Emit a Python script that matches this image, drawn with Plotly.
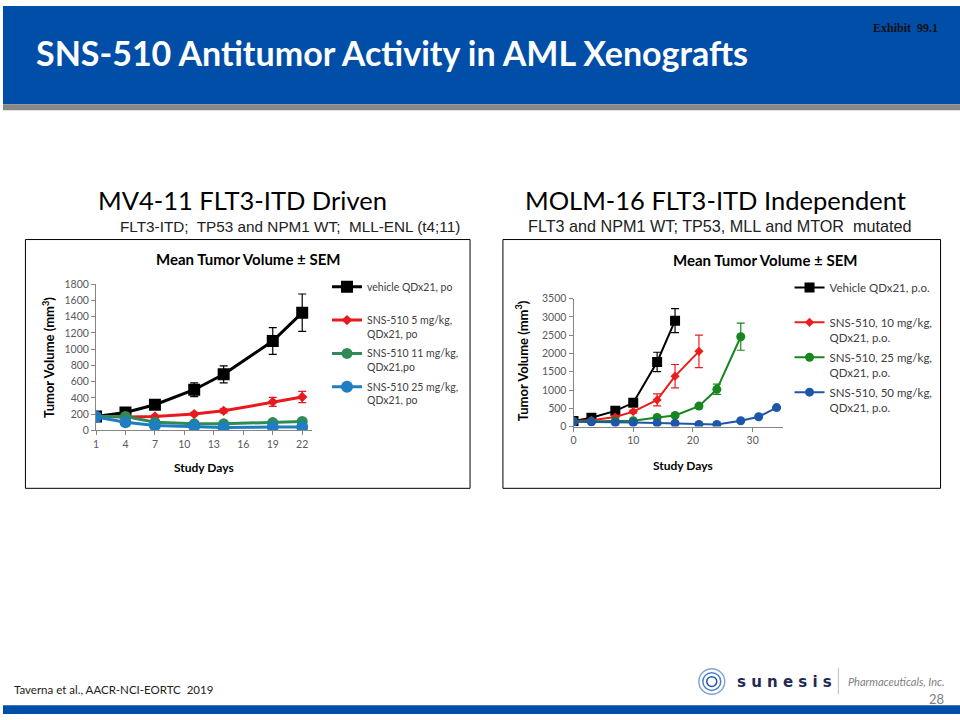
import plotly.graph_objects as go

W, H = 960, 720
def px(x): return x / W
def py(y): return 1 - y / H

# ---------------- data: MV4-11 (left) ----------------
days_l = [1, 4, 7, 11, 14, 19, 22]
veh_l = [170, 220, 315, 500, 690, 1100, 1450]
veh_l_err = [5, 20, 30, 85, 105, 165, 230]
sns5_l = [170, 165, 170, 200, 240, 350, 410]
sns5_l_err = [5, 10, 15, 20, 25, 55, 70]
sns11_l = [170, 170, 100, 80, 80, 95, 110]
sns11_l_err = [5, 10, 10, 10, 10, 10, 15]
sns25_l = [165, 100, 60, 50, 35, 40, 40]
sns25_l_err = [5, 10, 10, 10, 5, 5, 5]
names_l = ["vehicle QDx21, po<br>&nbsp;", "SNS-510 5 mg/kg,<br>QDx21, po",
           "SNS-510 11 mg/kg,<br>QDx21,po", "SNS-510 25 mg/kg,<br>QDx21, po"]
ticks_l = [1, 4, 7, 10, 13, 16, 19, 22]

# ---------------- data: MOLM-16 (right) ----------------
days_r_veh = [0, 3, 7, 10, 14, 17]
veh_r = [150, 240, 430, 650, 1770, 2900]
veh_r_err = [20, 30, 50, 60, 265, 330]
days_r_10 = [0, 3, 7, 10, 14, 17, 21]
sns10_r = [150, 170, 260, 410, 730, 1380, 2060]
sns10_r_err = [15, 20, 30, 40, 165, 320, 445]
days_r_25 = [0, 3, 7, 10, 14, 17, 21, 24, 28]
sns25_r = [140, 140, 150, 160, 250, 305, 560, 1020, 2460]
sns25_r_err = [10, 10, 15, 20, 30, 30, 50, 140, 370]
days_r_50 = [0, 3, 7, 10, 14, 17, 21, 24, 28, 31, 34]
sns50_r = [130, 130, 110, 110, 100, 90, 60, 60, 160, 270, 520]
sns50_r_err = [10, 10, 10, 10, 10, 10, 5, 5, 15, 20, 25]
names_r = ["Vehicle QDx21, p.o.<br>&nbsp;", "SNS-510, 10 mg/kg,<br>QDx21, p.o.",
           "SNS-510, 25 mg/kg,<br>QDx21, p.o.", "SNS-510, 50 mg/kg,<br>QDx21, p.o."]

FONT = "Lato"
TICKC = "#595959"

fig = go.Figure()

def add(x, y, e, name, color, sym, size, lw, xa, ya, leg, grp):
    fig.add_trace(go.Scatter(
        x=x, y=y, name=name, mode="lines+markers",
        line=dict(color=color, width=lw),
        marker=dict(symbol=sym, size=size, color=color),
        error_y=dict(type="data", array=e, color=color, thickness=1.2, width=4),
        xaxis=xa, yaxis=ya, legend=leg, legendgroup=grp))

# left chart
add(days_l, veh_l, veh_l_err, names_l[0], "#000000", "square", 12, 3, "x", "y", "legend", "a")
add(days_l, sns5_l, sns5_l_err, names_l[1], "#E8191F", "diamond", 8, 3, "x", "y", "legend", "b")
add(days_l, sns11_l, sns11_l_err, names_l[2], "#2E8B57", "circle", 11, 3, "x", "y", "legend", "c")
add(days_l, sns25_l, sns25_l_err, names_l[3], "#1F7DC1", "circle", 12, 3, "x", "y", "legend", "d")
# right chart
add(days_r_veh, veh_r, veh_r_err, names_r[0], "#000000", "square", 10, 2, "x2", "y2", "legend2", "e")
add(days_r_10, sns10_r, sns10_r_err, names_r[1], "#EE1C1C", "diamond", 7, 2, "x2", "y2", "legend2", "f")
add(days_r_25, sns25_r, sns25_r_err, names_r[2], "#17861F", "circle", 9, 2, "x2", "y2", "legend2", "g")
add(days_r_50, sns50_r, sns50_r_err, names_r[3], "#1E56A8", "circle", 9, 2, "x2", "y2", "legend2", "h")

axis_common = dict(showgrid=False, zeroline=False, showline=True, linecolor="#868686",
                   linewidth=1, ticks="outside", tickcolor="#868686", ticklen=4,
                   tickfont=dict(family=FONT, size=10.5, color=TICKC))

fig.update_layout(
    width=W, height=H, margin=dict(l=0, r=0, t=0, b=0),
    paper_bgcolor="white", plot_bgcolor="rgba(0,0,0,0)", showlegend=True,
    xaxis=dict(domain=[px(93.3), px(310)], range=[1, 23], tickvals=ticks_l, anchor="y", **axis_common),
    yaxis=dict(domain=[py(431.5), py(283)], range=[0, 1800], dtick=200, anchor="x", **axis_common),
    xaxis2=dict(domain=[px(572.3), px(782)], range=[0, 35], dtick=10, anchor="y2", **axis_common),
    yaxis2=dict(domain=[py(427.7), py(297.7)], range=[0, 3500], dtick=500, anchor="x2", **axis_common),
    legend=dict(x=px(325), y=py(272), xanchor="left", yanchor="top", bgcolor="rgba(0,0,0,0)",
                font=dict(family=FONT, size=10.5, color="#404040"), valign="top",
                tracegroupgap=3, itemwidth=30),
    legend2=dict(x=px(789), y=py(272), xanchor="left", yanchor="top", bgcolor="rgba(0,0,0,0)",
                 font=dict(family=FONT, size=11.5, color="#404040"), valign="top",
                 tracegroupgap=2, itemwidth=30),
)

shapes = [
    dict(type="rect", xref="paper", yref="paper", x0=0, x1=1, y0=py(100), y1=1,
         fillcolor="#004EA8", line=dict(width=0), layer="below"),
    dict(type="rect", xref="paper", yref="paper", x0=0, x1=1, y0=py(106), y1=py(100),
         fillcolor="#878787", line=dict(width=0), layer="below"),
    dict(type="rect", xref="paper", yref="paper", x0=0, x1=1, y0=0, y1=py(711),
         fillcolor="#004EA8", line=dict(width=0), layer="below"),
    dict(type="rect", xref="paper", yref="paper", x0=px(22.5), x1=px(468.5), y0=py(490.5), y1=py(237.5),
         line=dict(color="#000000", width=1), layer="below"),
    dict(type="rect", xref="paper", yref="paper", x0=px(501.5), x1=px(940.5), y0=py(490.5), y1=py(237.5),
         line=dict(color="#000000", width=1), layer="below"),
    dict(type="line", xref="paper", yref="paper", x0=px(838), x1=px(838), y0=py(673), y1=py(700),
         line=dict(color="#BFBFBF", width=1)),
]
# simple logo rings
for r, c in [(13, "#7FA6D6"), (9, "#4F7FBF"), (5, "#1E56A8")]:
    shapes.append(dict(type="circle", xref="paper", yref="paper",
                       x0=px(711 - r), x1=px(711 + r), y0=py(687 + r), y1=py(687 - r),
                       line=dict(color=c, width=1.5)))
fig.update_layout(shapes=shapes)

def ann(text, x, y, size, color="#000000", family=FONT, xanchor="center", bold=False, textangle=0, italic=False):
    t = f"<b>{text}</b>" if bold else text
    t = f"<i>{t}</i>" if italic else t
    fig.add_annotation(text=t, x=px(x), y=py(y), xref="paper", yref="paper", showarrow=False,
                       xanchor=xanchor, yanchor="middle", textangle=textangle,
                       font=dict(size=size, color=color, family=family))

ann("SNS-510 Antitumor Activity in AML Xenografts", 31, 47, 34, "white", xanchor="left", bold=True)
ann("Exhibit  99.1", 940, 22, 12, "#111111", family="Liberation Serif", xanchor="right", bold=True)

ann("MV4-11 FLT3-ITD Driven", 240, 197, 25.5)
ann("FLT3-ITD;  TP53 and NPM1 WT;  MLL-ENL (t4;11)", 288, 224, 15.3, "#222222", family="Liberation Sans")
ann("MOLM-16 FLT3-ITD Independent", 715, 197, 25.5)
ann("FLT3 and NPM1 WT; TP53, MLL and MTOR  mutated", 719, 224, 16.2, "#222222", family="Liberation Sans")

ann("Mean Tumor Volume ± SEM", 246, 257, 15, bold=True)
ann("Mean Tumor Volume ± SEM", 764, 258, 15, bold=True)
ann("Study Days", 202, 469, 12, bold=True)
ann("Study Days", 682, 467, 12, bold=True)
ann("Tumor Volume (mm<sup>3</sup>)", 45, 357, 13, bold=True, textangle=-90)
ann("Tumor Volume (mm<sup>3</sup>)", 521, 361, 13, bold=True, textangle=-90)

ann("Taverna et al., AACR-NCI-EORTC  2019", 9, 695, 11.5, "#222222", xanchor="left")
ann("s u n e s i s", 784, 687, 15, "#1F2A55", family="DejaVu Sans", bold=True)
ann("Pharmaceuticals, Inc.", 896, 687, 11, "#7F7F7F", italic=True)
ann("28", 946, 705, 13, "#7F7F7F", xanchor="right")

post = ("var d=document.getElementById('{plot_id}');"
        "var p=d.parentElement;p.style.position='fixed';p.style.left='0';p.style.top='0';"
        "p.style.margin='0';p.style.padding='0';"
        "document.body.style.margin='0';document.body.style.overflow='hidden';"
        "document.documentElement.style.overflow='hidden';")
fig.write_html("out.html", config={"displayModeBar": False}, post_script=post)
